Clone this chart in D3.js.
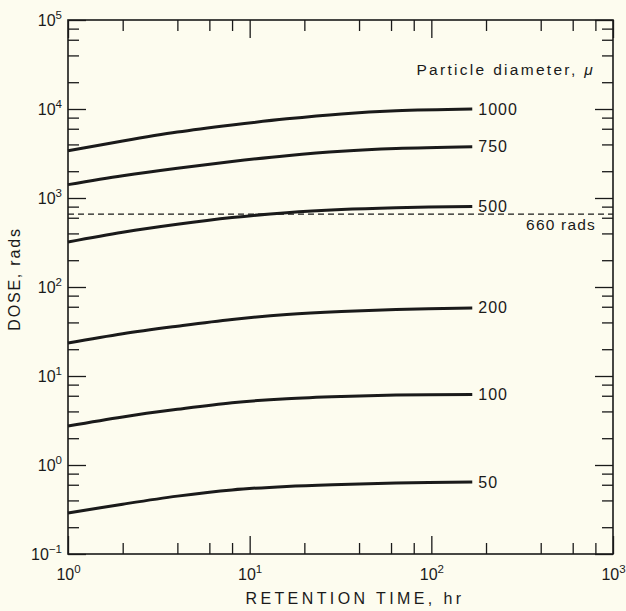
<!DOCTYPE html>
<html>
<head>
<meta charset="utf-8">
<script src="https://cdn.jsdelivr.net/npm/d3@7"></script>
<style>
  html, body { margin: 0; padding: 0; background: #fdfcef; }
  svg { display: block; font-family: "Liberation Sans", Arial, Helvetica, sans-serif; }
</style>
</head>
<body>
<svg id="chart" width="626" height="611"></svg>
<script>
// ---- data ----
const retentionHours = [1, 2, 4, 8, 16, 32, 64, 168];
const seriesNames = ["1000", "750", "500", "200", "100", "50"];
const dose1000 = [3390, 4370, 5500, 6610, 7760, 8810, 9550, 10000];
const dose750  = [1413, 1778, 2163, 2570, 2985, 3350, 3590, 3760];
const dose500  = [320, 412, 507, 603, 684, 741, 776, 805];
const dose200  = [23.5, 29.9, 36.3, 43.2, 49.0, 53.1, 56.0, 58.1];
const dose100  = [2.74, 3.47, 4.22, 5.01, 5.56, 5.89, 6.10, 6.21];
const dose50   = [0.289, 0.363, 0.447, 0.525, 0.575, 0.605, 0.628, 0.644];
const seriesValues = [dose1000, dose750, dose500, dose200, dose100, dose50];
const thresholdDose = 660;
const thresholdLabel = "660 rads";
const xMajorTicks = [1, 10, 100, 1000];
const yMajorTicks = [0.1, 1, 10, 100, 1000, 10000, 100000];
const xTickExponents = ["0", "1", "2", "3"];
const yTickExponents = ["\u22121", "0", "1", "2", "3", "4", "5"];
const minorMultipliers = [2, 4, 6, 8];
const xTitle = "RETENTION TIME, hr";
const yTitle = "DOSE, rads";
const legendTitle = "Particle diameter, ";

// ---- layout ----
const L = 68, R = 613, T = 20, B = 554;
const svg = d3.select("#chart");
const ink = "#1a1a1a";

const x = d3.scaleLog().domain([1, 1000]).range([L, R]);
const y = d3.scaleLog().domain([0.1, 100000]).range([B, T]);

function minors(domain) {
  const out = [];
  for (let p = Math.log10(domain[0]); p < Math.log10(domain[1]); p++) {
    minorMultipliers.forEach(m => out.push(m * Math.pow(10, p)));
  }
  return out;
}
const xMinor = minors(x.domain());
const yMinor = minors(y.domain());

const MAJ = 18, MIN = 11;

function styleAxis(g) {
  g.select(".domain").remove();
  g.selectAll(".tick line").attr("stroke", ink).attr("stroke-width", 1.3);
}

// left axis (major with labels)
const gl = svg.append("g").attr("transform", `translate(${L},0)`)
  .call(d3.axisLeft(y).tickValues(yMajorTicks).tickSize(-MAJ).tickPadding(6).tickFormat(() => ""));
styleAxis(gl);
gl.selectAll(".tick text").each(function(d, i) {
  const t = d3.select(this).attr("fill", ink).attr("font-size", 16).attr("dy", "0.33em").attr("x", -6);
  t.append("tspan").text("10");
  t.append("tspan").attr("dy", -7).attr("font-size", 11.5).text(yTickExponents[i]);
});
svg.append("g").attr("transform", `translate(${L},0)`)
  .call(d3.axisLeft(y).tickValues(yMinor).tickSize(-MIN).tickFormat(() => ""))
  .call(styleAxis);

// right axis
svg.append("g").attr("transform", `translate(${R},0)`)
  .call(d3.axisRight(y).tickValues(yMajorTicks).tickSize(-MAJ).tickFormat(() => ""))
  .call(styleAxis);
svg.append("g").attr("transform", `translate(${R},0)`)
  .call(d3.axisRight(y).tickValues(yMinor).tickSize(-MIN).tickFormat(() => ""))
  .call(styleAxis);

// bottom axis
const gb = svg.append("g").attr("transform", `translate(0,${B})`)
  .call(d3.axisBottom(x).tickValues(xMajorTicks).tickSize(-MAJ).tickFormat(() => ""));
styleAxis(gb);
gb.selectAll(".tick text").each(function(d, i) {
  const t = d3.select(this).attr("fill", ink).attr("font-size", 16).attr("dy", 0).attr("y", 26);
  t.append("tspan").text("10");
  t.append("tspan").attr("dy", -7).attr("font-size", 11.5).text(xTickExponents[i]);
});
svg.append("g").attr("transform", `translate(0,${B})`)
  .call(d3.axisBottom(x).tickValues(xMinor).tickSize(-MIN).tickFormat(() => ""))
  .call(styleAxis);

// top axis
svg.append("g").attr("transform", `translate(0,${T})`)
  .call(d3.axisTop(x).tickValues(xMajorTicks).tickSize(-MAJ).tickFormat(() => ""))
  .call(styleAxis);
svg.append("g").attr("transform", `translate(0,${T})`)
  .call(d3.axisTop(x).tickValues(xMinor).tickSize(-MIN).tickFormat(() => ""))
  .call(styleAxis);

// frame
svg.append("rect").attr("x", L).attr("y", T).attr("width", R - L).attr("height", B - T)
  .attr("fill", "none").attr("stroke", ink).attr("stroke-width", 1.6);

// threshold dashed line
svg.append("line")
  .attr("x1", L).attr("x2", R)
  .attr("y1", y(thresholdDose)).attr("y2", y(thresholdDose))
  .attr("stroke", ink).attr("stroke-width", 1.2).attr("stroke-dasharray", "6,4");
svg.append("text").attr("x", 596).attr("y", y(thresholdDose) + 16)
  .attr("text-anchor", "end").attr("font-size", 15.5).attr("letter-spacing", 1.2)
  .attr("fill", ink).text(thresholdLabel);

// curves
const line = d3.line()
  .x((d, i) => x(retentionHours[i]))
  .y(d => y(d))
  .curve(d3.curveCatmullRom.alpha(0.5));

seriesValues.forEach((vals, k) => {
  svg.append("path").attr("d", line(vals))
    .attr("fill", "none").attr("stroke", ink).attr("stroke-width", 3)
    .attr("stroke-linecap", "butt");
  svg.append("text")
    .attr("x", x(retentionHours[retentionHours.length - 1]) + 6)
    .attr("y", y(vals[vals.length - 1]) + 5.5)
    .attr("font-size", 16).attr("letter-spacing", 1).attr("fill", ink)
    .text(seriesNames[k]);
});

// legend title
const lt = svg.append("text").attr("x", 595).attr("y", 75).attr("text-anchor", "end")
  .attr("font-size", 15.5).attr("letter-spacing", 2.3).attr("fill", ink);
lt.append("tspan").text(legendTitle);
lt.append("tspan").attr("font-style", "italic").text("\u03bc");

// axis titles
svg.append("text").attr("x", 355).attr("y", 604)
  .attr("text-anchor", "middle").attr("font-size", 16).attr("letter-spacing", 3.4)
  .attr("fill", ink).text(xTitle);
svg.append("text").attr("transform", `translate(20,279) rotate(-90)`)
  .attr("text-anchor", "middle").attr("font-size", 16).attr("letter-spacing", 1.8)
  .attr("fill", ink).text(yTitle);
</script>
</body>
</html>
